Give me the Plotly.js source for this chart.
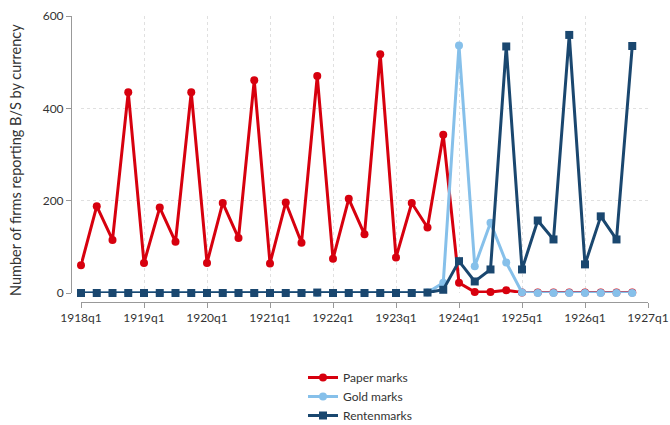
<!DOCTYPE html>
<html>
<head>
<meta charset="utf-8">
<script src="https://cdn.plot.ly/plotly-3.0.1.min.js"></script>
<style>html,body{margin:0;padding:0;background:#fff;}#chart{width:670px;height:425px;}</style>
</head>
<body>
<div id="chart"></div>
<script>
// Quarter index: 0 = 1918q1 ... 35 = 1926q4
const quarters = [0,1,2,3,4,5,6,7,8,9,10,11,12,13,14,15,16,17,18,19,20,21,22,23,24,25,26,27,28,29,30,31,32,33,34,35];
const paperMarks = [60,188,115,435,65,185,111,435,65,195,119,461,64,196,109,470,74,204,127,517,77,195,142,343,22,2,2,6,1,1,1,1,1,1,1,1];
const goldMarks  = [0,0,0,0,0,0,0,0,0,0,0,0,0,0,0,0,0,0,0,0,0,0,1,22,536,58,152,66,1,0,0,0,0,0,0,0];
const rentenmarks= [0,0,0,0,0,0,0,0,0,0,0,0,0,0,0,1,0,0,0,0,0,0,1,7,69,25,51,534,51,157,116,559,62,166,116,535];
const tickVals = [0,4,8,12,16,20,24,28,32,36];
const tickText = ["1918q1","1919q1","1920q1","1921q1","1922q1","1923q1","1924q1","1925q1","1926q1","1927q1"];
const yTitle = "Number of firms reporting B/S by currency";

const cRed = "#d7000e", cGold = "#86c0ea", cRent = "#1a476f";
const font = "Lato, 'Open Sans', sans-serif";

const traces = [
  {x: quarters, y: paperMarks, name: "Paper marks", mode: "lines+markers",
   line: {color: cRed, width: 3}, marker: {color: cRed, size: 8, symbol: "circle"}, cliponaxis: false},
  {x: quarters, y: goldMarks, name: "Gold marks", mode: "lines+markers",
   line: {color: cGold, width: 3}, marker: {color: cGold, size: 8, symbol: "circle"}, cliponaxis: false},
  {x: quarters, y: rentenmarks, name: "Rentenmarks", mode: "lines+markers",
   line: {color: cRent, width: 3}, marker: {color: cRent, size: 8, symbol: "square"}, cliponaxis: false}
];

const layout = {
  width: 670, height: 425,
  margin: {l: 71, r: 22, t: 16, b: 123, autoexpand: false},
  paper_bgcolor: "#fff", plot_bgcolor: "#fff",
  font: {family: font, size: 12, color: "#333"},
  showlegend: true,
  legend: {x: 303/670, xref: "container", xanchor: "left", y: 1 - 363/425, yref: "container", yanchor: "top", orientation: "v",
           font: {family: font, size: 12, color: "#333"}, tracegroupgap: 0},
  xaxis: {
    domain: [10/577, 1], range: [0, 36], anchor: "free", position: 0,
    tickvals: tickVals, ticktext: tickText, ticks: "outside", ticklen: 5, tickcolor: "#999",
    showline: true, linecolor: "#999", linewidth: 1,
    showgrid: true, gridcolor: "#e0e0e0", griddash: "dot", gridwidth: 1,
    zeroline: false, tickfont: {family: font, size: 12, color: "#333"}
  },
  yaxis: {
    domain: [9/286, 1], range: [0, 600], anchor: "free", position: 0,
    tickvals: [0,200,400,600], ticks: "outside", ticklen: 5, tickcolor: "#999",
    showline: true, linecolor: "#999", linewidth: 1,
    showgrid: true, gridcolor: "#e0e0e0", griddash: "dot", gridwidth: 1,
    zeroline: false, tickfont: {family: font, size: 12, color: "#333"}
  },
  annotations: [{
    text: yTitle, textangle: -90, showarrow: false,
    xref: "paper", yref: "paper", x: (15 - 71) / 577, y: (302 - 160) / 286,
    xanchor: "center", yanchor: "middle",
    font: {family: font, size: 14.5, color: "#333"}
  }]
};

Plotly.newPlot("chart", traces, layout, {displayModeBar: false, staticPlot: true});
</script>
</body>
</html>
